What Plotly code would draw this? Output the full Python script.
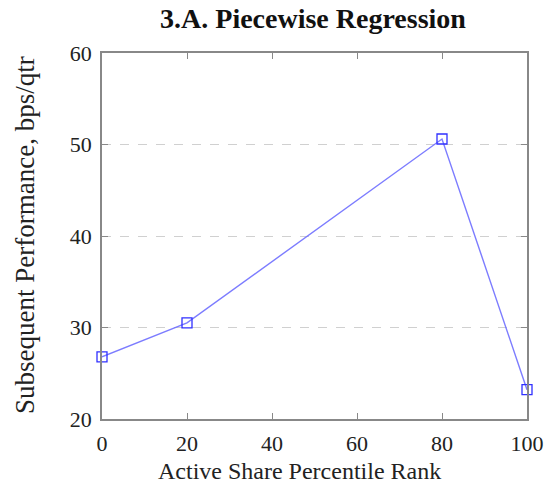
import plotly.graph_objects as go

x_vals = [0, 20, 80, 100]
y_vals = [26.8, 30.5, 50.6, 23.2]
x_ticks = [0, 20, 40, 60, 80, 100]
y_ticks = [20, 30, 40, 50, 60]

fig = go.Figure()
fig.add_trace(go.Scatter(
    x=x_vals, y=y_vals, mode="lines+markers",
    line=dict(color="rgba(110,110,255,0.9)", width=1.4),
    marker=dict(symbol="square-open", size=10, color="#3030ff", line=dict(width=1.3)),
    cliponaxis=False, showlegend=False,
))

font_fam = "Liberation Serif, DejaVu Serif, serif"
fig.update_layout(
    width=545, height=488,
    margin=dict(l=102, r=18, t=53, b=69, autoexpand=False),
    plot_bgcolor="white", paper_bgcolor="white",
    font=dict(family=font_fam, color="#222", size=22),
    title=dict(text="<b>3.A. Piecewise Regression</b>", x=313 / 545, xref="container",
               xanchor="center", y=0.963, yanchor="middle",
               font=dict(size=28, family=font_fam, color="#111")),
    annotations=[
        dict(text="Active Share Percentile Rank", xref="paper", yref="paper",
             x=(299 - 102) / 425, y=-(471 - 419) / 366, xanchor="center", yanchor="middle",
             showarrow=False, font=dict(size=24, family=font_fam, color="#222")),
        dict(text="Subsequent Performance, bps/qtr", xref="paper", yref="paper",
             x=-(102 - 25) / 425, y=(419 - 235) / 366, xanchor="center", yanchor="middle",
             textangle=-90, showarrow=False, font=dict(size=27, family=font_fam, color="#222")),
    ],
)
fig.update_xaxes(
    range=[0, 100], tickvals=x_ticks, ticks="inside", ticklen=6, tickcolor="#888",
    showline=True, linecolor="#888", linewidth=1.5, mirror="allticks",
    showgrid=False, zeroline=False, tickfont=dict(size=22), ticklabelstandoff=4,
    automargin=False,
)
fig.update_yaxes(
    range=[20, 60], tickvals=y_ticks, ticks="inside", ticklen=6, tickcolor="#888",
    showline=True, linecolor="#888", linewidth=1.5, mirror="allticks",
    showgrid=True, gridcolor="#d0d0d0", griddash="dash", gridwidth=1,
    zeroline=False, tickfont=dict(size=22), ticklabelstandoff=4,
    automargin=False,
)
fig.write_html("out.html", config={"displayModeBar": False},
               post_script="document.body.style.margin='0px';")
